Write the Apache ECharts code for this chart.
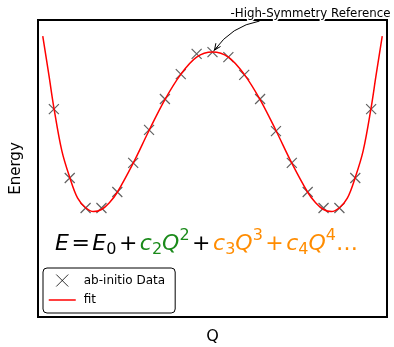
<!DOCTYPE html>
<html>
<head>
<meta charset="utf-8">
<script src="https://cdn.jsdelivr.net/npm/echarts@6/dist/echarts.min.js"></script>
<style>
  html, body { margin: 0; padding: 0; background: #fff; }
  #chart { width: 394px; height: 347px; }
</style>
</head>
<body>
<div id="chart"></div>
<script>
// ab-initio energies sampled along the distortion coordinate Q
const Q_SAMPLES = [-10, -9, -8, -7, -6, -5, -4, -3, -2, -1, 0, 1, 2, 3, 4, 5, 6, 7, 8, 9, 10];
const ENERGY_SAMPLES = [7.0, 4.68, 3.67, 3.67, 4.21, 5.19, 6.30, 7.34, 8.18, 8.86, 8.92,
                        8.75, 8.15, 7.34, 6.26, 5.19, 4.21, 3.67, 3.67, 4.68, 7.0];

// polynomial fit curve, sampled
const FIT_Q = [-10.7, -10.3, -10, -9.5, -9, -8.5, -8, -7.5, -7, -6.5, -6, -5, -4, -3, -2, -1, 0,
               1, 2, 3, 4, 5, 6, 6.5, 7, 7.5, 8, 8.5, 9, 9.5, 10, 10.3, 10.7];
const FIT_E = [9.46, 8.1, 7.05, 5.6, 4.7, 4.0, 3.68, 3.55, 3.62, 3.85, 4.2, 5.18, 6.28, 7.32, 8.17, 8.75, 8.92,
               8.75, 8.17, 7.32, 6.28, 5.18, 4.2, 3.85, 3.62, 3.55, 3.68, 4.0, 4.7, 5.6, 7.05, 8.1, 9.46];

const SERIES_NAMES = ['ab-initio Data', 'fit'];
const ANNOTATION = '-High-Symmetry Reference';
const AXIS_NAMES = { x: 'Q', y: 'Energy' };

// E = E0 + c2 Q^2 + c3 Q^3 + c4 Q^4 ...   (k: v = italic variable, op = operator, n = upright, sub, sup)
const FORMULA = [
  { t: 'E', k: 'v', c: 'black' }, { t: '=', k: 'op', c: 'black' }, { t: 'E', k: 'v', c: 'black' },
  { t: '0', k: 'sub', c: 'black' }, { t: '+', k: 'op', c: 'black' },
  { t: 'c', k: 'v', c: 'green' }, { t: '2', k: 'sub', c: 'green' }, { t: 'Q', k: 'v', c: 'green' },
  { t: '2', k: 'sup', c: 'green' }, { t: '+', k: 'op', c: 'black' },
  { t: 'c', k: 'v', c: 'orange' }, { t: '3', k: 'sub', c: 'orange' }, { t: 'Q', k: 'v', c: 'orange' },
  { t: '3', k: 'sup', c: 'orange' }, { t: '+', k: 'op', c: 'orange' },
  { t: 'c', k: 'v', c: 'orange' }, { t: '4', k: 'sub', c: 'orange' }, { t: 'Q', k: 'v', c: 'orange' },
  { t: '4', k: 'sup', c: 'orange' }, { t: '\u2026', k: 'n', c: 'orange' }
];

const COLORS = { black: '#000000', green: '#1a8a1a', orange: '#ff8c00', fit: '#ff0000', marker: '#3a3a3a' };
const TEXT_FONT = '"DejaVu Sans", sans-serif';
const X_SYMBOL = 'path://M0,0L10,10M10,0L0,10';

const chart = echarts.init(document.getElementById('chart'), null, { renderer: 'canvas' });

chart.setOption({
  animation: false,
  backgroundColor: '#ffffff',
  grid: {
    left: 38, right: 7, top: 20, bottom: 30,
    outerBoundsMode: 'none', containLabel: false,
    show: true, borderColor: '#000', borderWidth: 2
  },
  xAxis: {
    type: 'value', min: -11, max: 11,
    name: AXIS_NAMES.x, nameLocation: 'middle', nameGap: 12,
    nameTextStyle: { fontSize: 16, color: '#000', fontFamily: TEXT_FONT },
    axisLine: { show: false }, axisTick: { show: false }, axisLabel: { show: false }, splitLine: { show: false }
  },
  yAxis: {
    type: 'value', min: 0, max: 10,
    name: AXIS_NAMES.y, nameLocation: 'middle', nameGap: 14,
    nameTextStyle: { fontSize: 15, color: '#000', fontFamily: TEXT_FONT },
    axisLine: { show: false }, axisTick: { show: false }, axisLabel: { show: false }, splitLine: { show: false }
  },
  legend: {
    orient: 'vertical', left: 43, top: 268,
    padding: [6, 10, 7, 5], itemGap: 7, itemWidth: 27, itemHeight: 12,
    borderColor: '#000', borderWidth: 1, borderRadius: 4, backgroundColor: '#fff',
    textStyle: { fontSize: 12, color: '#000', fontFamily: TEXT_FONT, padding: [0, 0, 0, 3] },
    data: [
      { name: SERIES_NAMES[0], icon: X_SYMBOL,
        itemStyle: { color: 'rgba(0,0,0,0)', borderColor: '#000', borderWidth: 1 } },
      { name: SERIES_NAMES[1], itemStyle: { opacity: 0 }, lineStyle: { color: COLORS.fit, width: 1.5 } }
    ]
  },
  series: [
    {
      name: SERIES_NAMES[0], type: 'scatter', z: 3,
      symbol: X_SYMBOL, symbolSize: 10,
      itemStyle: { color: 'rgba(0,0,0,0)', borderColor: COLORS.marker, borderWidth: 1.2 },
      data: Q_SAMPLES.map((q, i) => [q, ENERGY_SAMPLES[i]])
    },
    {
      name: SERIES_NAMES[1], type: 'line', z: 4, smooth: 0.35,
      symbol: 'none', lineStyle: { color: COLORS.fit, width: 1.5 },
      itemStyle: { color: COLORS.fit },
      data: FIT_Q.map((q, i) => [q, FIT_E[i]])
    }
  ]
});

// --- overlay: annotation arrow and the formula ---
const measureCtx = document.createElement('canvas').getContext('2d');
function fontOf(size, italic) {
  return (italic ? 'italic ' : '') + size + 'px "DejaVu Sans"';
}

const graphics = [];

// annotation pointing at the symmetric (Q = 0) structure
const peakIdx = Q_SAMPLES.indexOf(0);
const peak = chart.convertToPixel({ seriesIndex: 0 }, [0, ENERGY_SAMPLES[peakIdx]]);
const tip = [peak[0] + 2, peak[1] - 2];
const tail = [peak[0] + 47, peak[1] - 31];
const ctrl = [peak[0] + 19, peak[1] - 26];
graphics.push({
  type: 'bezierCurve', z: 20,
  shape: { x1: tail[0], y1: tail[1], x2: tip[0], y2: tip[1], cpx1: ctrl[0], cpy1: ctrl[1] },
  style: { stroke: '#000', lineWidth: 1, fill: null }
});
(function arrowHead() {
  const dx = tip[0] - ctrl[0], dy = tip[1] - ctrl[1];
  const ang = Math.atan2(dy, dx);
  const len = 7, spread = 0.42;
  const p1 = [tip[0] - len * Math.cos(ang - spread), tip[1] - len * Math.sin(ang - spread)];
  const p2 = [tip[0] - len * Math.cos(ang + spread), tip[1] - len * Math.sin(ang + spread)];
  graphics.push({
    type: 'polyline', z: 20,
    shape: { points: [p1, tip, p2] },
    style: { stroke: '#000', lineWidth: 1, fill: null }
  });
})();
graphics.push({
  type: 'text', z: 21, x: peak[0] + 18, y: peak[1] - 38,
  style: {
    text: ANNOTATION, font: '11.8px "DejaVu Sans"', fill: '#000',
    align: 'left', verticalAlign: 'middle',
    stroke: '#fff', lineWidth: 3
  }
});

// formula, laid out piece by piece
const MAIN = 22, SMALL = 16, OP_PAD = 2.5;
let fx = 55;
const fy = 244;
FORMULA.forEach(p => {
  const small = p.k === 'sub' || p.k === 'sup';
  const size = small ? SMALL : MAIN;
  const italic = p.k === 'v';
  const font = fontOf(size, italic);
  measureCtx.font = font;
  const w = measureCtx.measureText(p.t).width;
  const dy = p.k === 'sub' ? 6 : (p.k === 'sup' ? -8 : 0);
  const pad = p.k === 'op' ? OP_PAD : 0;
  graphics.push({
    type: 'text', z: 10, x: fx + pad, y: fy + dy,
    style: { text: p.t, font: font, fill: COLORS[p.c], align: 'left', verticalAlign: 'middle' }
  });
  fx += w + 2 * pad;
});

chart.setOption({ graphic: graphics });
</script>
</body>
</html>
